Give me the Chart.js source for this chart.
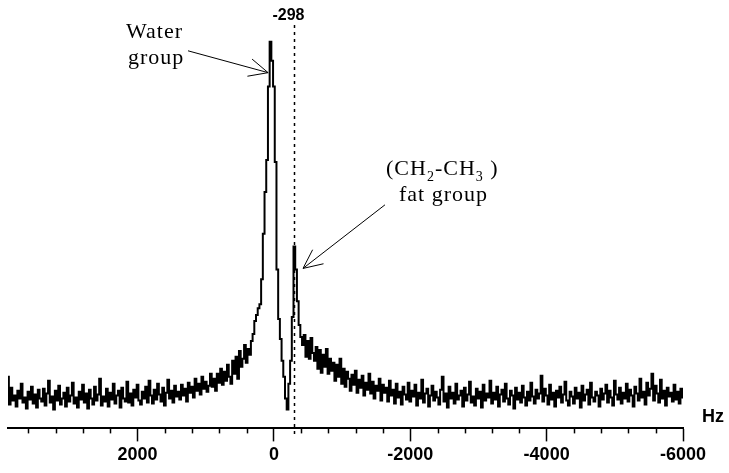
<!DOCTYPE html>
<html>
<head>
<meta charset="utf-8">
<script src="https://cdn.jsdelivr.net/npm/chart.js@4.4.1/dist/chart.umd.min.js"></script>
<style>
  html, body { margin: 0; padding: 0; background: #fff; }
</style>
</head>
<body>
<canvas id="spectrum" width="729" height="473"></canvas>
<script>
// frequency grid of the trace (Hz), first sample on the left, 25 Hz apart
var hzStart = 3900;
var hzStep = 25;
var hzMin = -6000;
var majorStep = 2000;
var minorStep = 400;
var markerHz = -298;

// signal intensity (arbitrary units), left to right
var intensity = [
    52, 24, 41, 28, 33, 22, 38, 30, 45, 26, 31, 20, 37, 29, 42, 25, 34, 21, 39, 30,
    27, 40, 23, 35, 48, 26, 32, 19, 38, 28, 43, 24, 30, 36, 22, 41, 27, 33, 46, 25,
    31, 21, 37, 29, 44, 26, 35, 20, 39, 30, 24, 42, 28, 34, 50, 23, 32, 27, 40, 22,
    36, 29, 45, 25, 33, 38, 21, 41, 30, 27, 47, 26, 35, 23, 39, 31, 44, 28, 24, 37,
    30, 42, 26, 48, 33, 25, 39, 29, 45, 34, 27, 41, 23, 36, 49, 30, 38, 26, 43, 32,
    37, 29, 44, 33, 40, 27, 46, 36, 42, 31, 50, 38, 45, 34, 52, 40, 47, 37, 43, 55,
    42, 50, 38, 55, 46, 60, 44, 57, 48, 64, 52, 45, 68, 55, 72, 50, 78, 62, 70, 84,
    66, 80, 74, 88, 95, 108, 114, 121, 125, 150, 196, 238, 270, 344, 389, 370, 344, 268, 160, 110,
    90, 68, 52, 30, 19, 45, 68, 112, 183, 160, 128, 104,
    92, 84, 94, 72, 88, 70, 91, 76, 68, 82, 60, 79, 56, 74, 62, 80, 55, 70, 58, 66,
    48, 64, 52, 70, 45, 60, 42, 57, 50, 38, 54, 44, 58, 36, 49, 41, 53, 33, 46, 39,
    55, 35, 47, 30, 43, 38, 50, 28, 44, 36, 41, 27, 48, 33, 39, 25, 45, 31, 37, 24,
    42, 34, 29, 46, 27, 38, 32, 44, 23, 36, 30, 49, 26, 35, 40, 22, 33, 43, 28, 37,
    31, 24, 39, 52, 27, 35, 21, 42, 30, 36, 25, 45, 29, 33, 38, 22, 41, 28, 34, 47,
    26, 32, 23, 40, 30, 37, 21, 44, 28, 35, 31, 48, 25, 36, 29, 42, 22, 34, 39, 27,
    45, 30, 24, 38, 33, 20, 41, 29, 36, 26, 43, 31, 23, 37, 28, 46, 32, 25, 39, 30,
    35, 53, 27, 40, 33, 24, 44, 29, 36, 22, 38, 31, 42, 26, 34, 47, 28, 23, 37, 32,
    25, 41, 30, 36, 21, 43, 28, 34, 39, 24, 46, 31, 27, 37, 33, 22, 40, 29, 35, 44,
    26, 38, 31, 23, 48, 34, 29, 41, 25, 36, 30, 45, 27, 39, 33, 22, 42, 35, 28, 50,
    31, 37, 24, 46, 33, 40, 55, 28, 43, 35, 26, 49, 30, 38, 23, 41, 32, 36, 27, 44,
    29, 37, 25, 40, 31
];

var points = intensity.map(function (v, i) {
    return { x: hzStart - i * hzStep, y: v };
});

var serif = '"Liberation Serif", "Times New Roman", serif';
var sans = '"Liberation Sans", Arial, sans-serif';

function drawArrow(ctx, x0, y0, x1, y1) {
    var ang = Math.atan2(y0 - y1, x0 - x1);
    var len = 21, spread = 25 * Math.PI / 180;
    ctx.beginPath();
    ctx.moveTo(x0, y0);
    ctx.lineTo(x1, y1);
    ctx.moveTo(x1 + len * Math.cos(ang - spread), y1 + len * Math.sin(ang - spread));
    ctx.lineTo(x1, y1);
    ctx.lineTo(x1 + len * Math.cos(ang + spread), y1 + len * Math.sin(ang + spread));
    ctx.stroke();
}

const notesPlugin = {
    id: 'spectrumNotes',
    afterDraw: function (chart) {
        var ctx = chart.ctx;
        var xs = chart.scales.x, ys = chart.scales.y;
        var area = chart.chartArea;
        var px = function (hz) { return xs.getPixelForValue(hz); };
        var py = function (v) { return ys.getPixelForValue(v); };
        ctx.save();

        // minor ticks (short ones)
        ctx.strokeStyle = '#000';
        ctx.lineWidth = 1.5;
        xs.ticks.forEach(function (t) {
            if (t.value % majorStep === 0) return;
            var x = Math.round(px(t.value)) + 0.5;
            ctx.beginPath();
            ctx.moveTo(x, area.bottom);
            ctx.lineTo(x, area.bottom + 5);
            ctx.stroke();
        });

        // dotted marker line
        var mx = Math.round(px(markerHz)) + 0.5;
        ctx.setLineDash([3, 4]);
        ctx.lineWidth = 1.5;
        ctx.beginPath();
        ctx.moveTo(mx, py(406));
        ctx.lineTo(mx, py(-6));
        ctx.stroke();
        ctx.setLineDash([]);

        ctx.fillStyle = '#000';
        ctx.font = 'bold 16px ' + sans;
        ctx.textAlign = 'center';
        ctx.textBaseline = 'alphabetic';
        ctx.fillText(String(markerHz), mx - 6, py(411));

        // unit label
        ctx.font = 'bold 18px ' + sans;
        ctx.textAlign = 'left';
        ctx.fillText('Hz', area.right + 19, area.bottom - 6);

        // annotations
        if ('letterSpacing' in ctx) ctx.letterSpacing = '1px';
        ctx.font = '22px ' + serif;
        ctx.fillText('Water', px(2169), py(393));
        ctx.fillText('group', px(2140), py(367));

        var cx = px(-1644), cy = py(255);
        var parts = [['(CH', 0], ['2', 1], ['-CH', 0], ['3', 1], [' )', 0]];
        parts.forEach(function (p) {
            ctx.font = (p[1] ? '14px ' : '22px ') + serif;
            ctx.fillText(p[0], cx, cy + (p[1] ? 6 : 0));
            cx += ctx.measureText(p[0]).width;
        });
        ctx.font = '22px ' + serif;
        ctx.fillText('fat group', px(-1835), py(229));
        if ('letterSpacing' in ctx) ctx.letterSpacing = '0px';

        ctx.lineWidth = 1;
        drawArrow(ctx, px(1260), py(380), px(85), py(358));
        drawArrow(ctx, px(-1629), py(225), px(-427), py(161));
        ctx.restore();
    }
};

new Chart(document.getElementById('spectrum'), {
    type: 'line',
    data: {
        datasets: [{
            data: points,
            borderColor: '#000',
            borderWidth: 2,
            pointRadius: 0,
            stepped: 'middle',
            fill: false
        }]
    },
    options: {
        responsive: false,
        animation: false,
        layout: { padding: { left: 8, right: 46, top: 21, bottom: 4 } },
        plugins: { legend: { display: false }, tooltip: { enabled: false } },
        scales: {
            x: {
                type: 'linear',
                reverse: true,
                min: hzMin,
                max: hzStart,
                afterBuildTicks: function (scale) {
                    var ticks = [];
                    for (var v = hzMin; v <= hzStart; v += minorStep) ticks.push({ value: v });
                    scale.ticks = ticks;
                },
                border: { display: true, color: '#000', width: 2 },
                grid: {
                    drawOnChartArea: false,
                    drawTicks: true,
                    tickLength: 13,
                    tickWidth: 1.5,
                    tickColor: function (c) {
                        return c.tick && c.tick.value % majorStep === 0 ? '#000' : 'rgba(0,0,0,0)';
                    }
                },
                ticks: {
                    autoSkip: false,
                    maxRotation: 0,
                    minRotation: 0,
                    padding: 3,
                    color: '#000',
                    font: { family: sans, size: 18, weight: 'bold' },
                    callback: function (value) {
                        return value % majorStep === 0 ? String(value) : '';
                    }
                }
            },
            y: {
                display: false,
                min: 0,
                max: 410
            }
        }
    },
    plugins: [notesPlugin]
});
</script>
</body>
</html>
